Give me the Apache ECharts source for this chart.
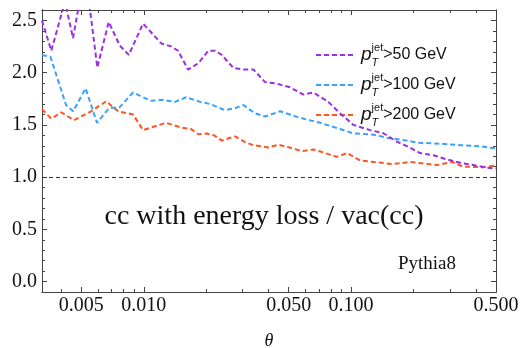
<!DOCTYPE html>
<html>
<head>
<meta charset="utf-8">
<script src="https://cdn.jsdelivr.net/npm/echarts@6/dist/echarts.min.js"></script>
<style>
html, body { margin: 0; padding: 0; background: #fff; }
#chart { width: 524px; height: 348px; }
</style>
</head>
<body>
<div id="chart"></div>
<script>
// pT jet > 50 GeV
const thetaA = [0.00323, 0.00358, 0.00417, 0.00456, 0.00521, 0.00597, 0.00678, 0.00766, 0.00847, 0.00992,
  0.01216, 0.01359, 0.01464, 0.01636, 0.01834, 0.02049, 0.02208, 0.02378, 0.02705, 0.03023,
  0.03379, 0.03847, 0.04382, 0.05078, 0.05888, 0.06579, 0.07771, 0.08851, 0.1026, 0.1235,
  0.1432, 0.1662, 0.1890, 0.2152, 0.2495, 0.2895, 0.3357, 0.3890, 0.4514, 0.5];
const valA = [2.50, 2.21, 2.68, 2.33, 2.98, 2.05, 2.485, 2.26, 2.17, 2.47,
  2.28, 2.25, 2.21, 2.03, 2.09, 2.21, 2.21, 2.17, 2.045, 2.03,
  2.03, 1.91, 1.895, 1.86, 1.79, 1.81, 1.72, 1.61, 1.50, 1.45,
  1.42, 1.34, 1.29, 1.23, 1.21, 1.17, 1.137, 1.115, 1.09, 1.083];

// pT jet > 100 GeV
const thetaB = [0.00323, 0.00355, 0.00422, 0.00457, 0.00524, 0.00595, 0.00680, 0.00766, 0.00888, 0.01084,
  0.01239, 0.01416, 0.01600, 0.01869, 0.02089, 0.02467, 0.02757, 0.03023, 0.03444, 0.03847,
  0.04546, 0.05489, 0.06135, 0.07087, 0.08851, 0.1022, 0.1291, 0.1508, 0.1802, 0.2082,
  0.2688, 0.3357, 0.4192, 0.5];
const valB = [2.17, 2.15, 1.69, 1.63, 1.85, 1.52, 1.66, 1.67, 1.81, 1.73,
  1.74, 1.72, 1.765, 1.72, 1.70, 1.64, 1.66, 1.69, 1.61, 1.58,
  1.63, 1.577, 1.55, 1.52, 1.46, 1.42, 1.405, 1.375, 1.354, 1.33,
  1.32, 1.306, 1.295, 1.274];

// pT jet > 200 GeV
const thetaC = [0.00323, 0.00358, 0.00400, 0.00461, 0.00557, 0.00660, 0.00752, 0.00888, 0.00992, 0.01281,
  0.01514, 0.01691, 0.01834, 0.02020, 0.02183, 0.02378, 0.02757, 0.03081, 0.03368, 0.03978,
  0.04461, 0.04913, 0.05550, 0.05888, 0.06579, 0.07246, 0.08531, 0.09565, 0.1105, 0.1350,
  0.1594, 0.1926, 0.2600, 0.3070, 0.3470, 0.4285, 0.5];
const valC = [1.65, 1.56, 1.62, 1.545, 1.63, 1.726, 1.63, 1.60, 1.45, 1.52,
  1.475, 1.46, 1.41, 1.417, 1.40, 1.35, 1.39, 1.335, 1.306, 1.284,
  1.31, 1.29, 1.26, 1.25, 1.265, 1.24, 1.194, 1.23, 1.16, 1.14,
  1.125, 1.145, 1.115, 1.146, 1.10, 1.095, 1.11];

const cuts = ['>50 GeV', '>100 GeV', '>200 GeV'];
const colors = ['#9b2fe0', '#3aa0ff', '#ff5522'];

const xMajor = [0.005, 0.01, 0.05, 0.1, 0.5];
const xMinor = [0.004, 0.006, 0.007, 0.008, 0.009, 0.02, 0.03, 0.04, 0.06, 0.07, 0.08, 0.09, 0.2, 0.3, 0.4];
const yMajor = [0, 0.5, 1, 1.5, 2, 2.5];
const yMinor = [0.1, 0.2, 0.3, 0.4, 0.6, 0.7, 0.8, 0.9, 1.1, 1.2, 1.3, 1.4, 1.6, 1.7, 1.8, 1.9, 2.1, 2.2, 2.3, 2.4];

const serif = '"Liberation Serif", "DejaVu Serif", serif';
const sans = '"Liberation Sans", Arial, sans-serif';
const frame = '#444';

function xAx(pos, ticks, len, withLabels) {
  return {
    type: 'log', logBase: 10, min: 0.00323, max: 0.5, position: pos,
    axisLine: { show: true, onZero: false, lineStyle: { color: frame, width: 1 } },
    axisTick: { show: true, inside: true, length: len, customValues: ticks, lineStyle: { color: frame } },
    axisLabel: withLabels ? {
      customValues: ticks, margin: 4, fontFamily: serif, fontSize: 20, color: '#111',
      formatter: v => Number(v).toFixed(3)
    } : { show: false },
    splitLine: { show: false },
    minorTick: { show: false }
  };
}

function yAx(pos, ticks, len, withLabels) {
  return {
    type: 'value', min: -0.1, max: 2.6, position: pos,
    axisLine: { show: true, onZero: false, lineStyle: { color: frame, width: 1 } },
    axisTick: { show: true, inside: true, length: len, customValues: ticks, lineStyle: { color: frame } },
    axisLabel: withLabels ? {
      customValues: ticks, margin: 5, fontFamily: serif, fontSize: 20, color: '#111',
      formatter: v => Number(v).toFixed(1)
    } : { show: false },
    splitLine: { show: false }
  };
}

const xMain = xAx('bottom', xMajor, 5, true);
xMain.name = 'θ';
xMain.nameLocation = 'middle';
xMain.nameGap = 40;
xMain.nameTextStyle = { fontFamily: serif, fontStyle: 'italic', fontSize: 18, color: '#111' };

const lines = [[thetaA, valA], [thetaB, valB], [thetaC, valC]].map((d, i) => ({
  name: cuts[i],
  type: 'line',
  xAxisIndex: 0,
  yAxisIndex: 0,
  data: d[0].map((t, j) => [t, d[1][j]]),
  symbol: 'none',
  showSymbol: false,
  clip: true,
  lineStyle: { color: colors[i], width: 2, type: [5, 3] },
  itemStyle: { color: colors[i] },
  z: 5 - i
}));

lines[0].markLine = {
  silent: true,
  symbol: ['none', 'none'],
  label: { show: false },
  lineStyle: { color: '#333', width: 1, type: [4, 3] },
  data: [{ yAxis: 1 }]
};

const chart = echarts.init(document.getElementById('chart'));
chart.setOption({
  animation: false,
  backgroundColor: '#fff',
  grid: { left: 42, right: 28, top: 10, bottom: 56, outerBoundsMode: 'none' },
  xAxis: [
    xMain,
    xAx('bottom', xMinor, 3, false),
    xAx('top', xMajor, 5, false),
    xAx('top', xMinor, 3, false)
  ],
  yAxis: [
    yAx('left', yMajor, 5, true),
    yAx('left', yMinor, 3, false),
    yAx('right', yMajor, 5, false),
    yAx('right', yMinor, 3, false)
  ],
  legend: {
    orient: 'vertical',
    left: 315,
    top: 42,
    padding: 0,
    itemWidth: 40,
    itemHeight: 14,
    itemGap: 4,
    itemStyle: { opacity: 0 },
    data: cuts,
    formatter: name => '{p|p}{sub|T}{sup|jet}{t|' + name + '}',
    textStyle: {
      color: '#111',
      rich: {
        p: { fontFamily: sans, fontStyle: 'italic', fontSize: 19, lineHeight: 26 },
        sub: { fontFamily: sans, fontStyle: 'italic', fontSize: 11, lineHeight: 12, width: 0, verticalAlign: 'bottom' },
        sup: { fontFamily: sans, fontSize: 11, lineHeight: 12, verticalAlign: 'top' },
        t: { fontFamily: sans, fontSize: 16, lineHeight: 26 }
      }
    }
  },
  graphic: [
    {
      type: 'text', x: 264, y: 217,
      style: { text: 'cc with energy loss / vac(cc)', fontFamily: serif, fontSize: 28, fill: '#111', align: 'center', verticalAlign: 'middle' }
    },
    {
      type: 'text', x: 427, y: 264,
      style: { text: 'Pythia8', fontFamily: serif, fontSize: 19, fill: '#111', align: 'center', verticalAlign: 'middle' }
    }
  ],
  series: lines
});
</script>
</body>
</html>
